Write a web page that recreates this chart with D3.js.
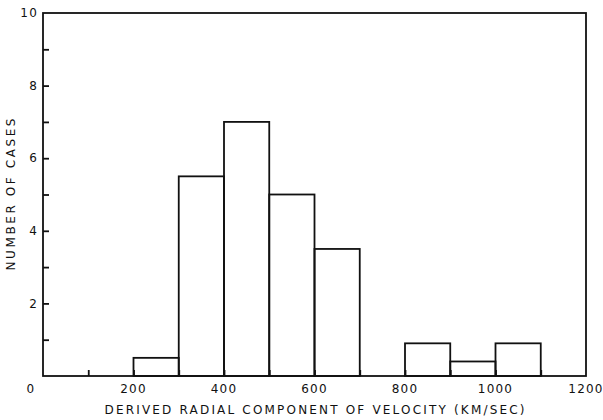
<!DOCTYPE html>
<html>
<head>
<meta charset="utf-8">
<script src="https://cdn.jsdelivr.net/npm/d3@7"></script>
<style>
  body { margin: 0; background: #fff; }
  text { font-family: "DejaVu Sans", sans-serif; fill: #111; }
</style>
</head>
<body>
<div id="chart"></div>
<script>
// bins of 100 km/sec, start values
var binStarts = [100, 200, 300, 400, 500, 600, 700, 800, 900, 1000];
var counts = [0, 0.5, 5.5, 7, 5, 3.5, 0, 0.9, 0.4, 0.9];
var xTickLabels = [0, 200, 400, 600, 800, 1000, 1200];
var yTickLabels = [2, 4, 6, 8, 10];
var xLabel = "DERIVED RADIAL COMPONENT OF VELOCITY (KM/SEC)";
var yLabel = "NUMBER OF CASES";

var width = 603, height = 420;
var margin = {top: 13, right: 17, bottom: 44, left: 43};

var svg = d3.select("#chart").append("svg").attr("width", width).attr("height", height);

var x = d3.scaleLinear().domain([0, 1200]).range([margin.left, width - margin.right]);
var y = d3.scaleLinear().domain([0, 10]).range([height - margin.bottom, margin.top]);

// bars
svg.selectAll("rect.bar").data(binStarts)
  .enter().append("rect")
  .attr("class", "bar")
  .attr("x", function(d) { return x(d); })
  .attr("width", function(d) { return x(d + 100) - x(d); })
  .attr("y", function(d, i) { return y(counts[i]); })
  .attr("height", function(d, i) { return y(0) - y(counts[i]); })
  .attr("fill", "none")
  .attr("stroke", "#111")
  .attr("stroke-width", 1.8);

// frame
svg.append("rect")
  .attr("x", x(0)).attr("y", y(10))
  .attr("width", x(1200) - x(0)).attr("height", y(0) - y(10))
  .attr("fill", "none").attr("stroke", "#111").attr("stroke-width", 1.8);

// y axis: inward ticks every 1
var yAxis = d3.axisRight(y).tickValues(d3.range(1, 10)).tickSize(6).tickFormat("");
var gy = svg.append("g").attr("transform", "translate(" + x(0) + ",0)").call(yAxis);
gy.select(".domain").remove();
gy.selectAll("line").attr("stroke", "#111").attr("stroke-width", 1.8);

svg.selectAll("text.ylab").data(yTickLabels)
  .enter().append("text")
  .attr("class", "ylab")
  .attr("x", x(0) - 5)
  .attr("y", function(d) { return y(d); })
  .attr("dy", "0.35em")
  .attr("text-anchor", "end")
  .attr("font-size", 12)
  .attr("letter-spacing", 1.2)
  .text(function(d) { return d; });

// x axis: inward ticks every 100
var xAxis = d3.axisTop(x).tickValues(d3.range(100, 1200, 100)).tickSize(6).tickFormat("");
var gx = svg.append("g").attr("transform", "translate(0," + y(0) + ")").call(xAxis);
gx.select(".domain").remove();
gx.selectAll("line").attr("stroke", "#111").attr("stroke-width", 1.8);

svg.selectAll("text.xlab").data(xTickLabels)
  .enter().append("text")
  .attr("class", "xlab")
  .attr("x", function(d) { return d === 0 ? x(d) - 12 : x(d); })
  .attr("y", y(0) + 17)
  .attr("text-anchor", "middle")
  .attr("font-size", 12)
  .attr("letter-spacing", 1.2)
  .text(function(d) { return d; });

svg.append("text")
  .attr("x", (x(0) + x(1200)) / 2)
  .attr("y", 414)
  .attr("text-anchor", "middle")
  .attr("font-size", 12)
  .attr("textLength", 420)
  .attr("lengthAdjust", "spacing")
  .text(xLabel);

svg.append("text")
  .attr("transform", "translate(15," + (y(5)) + ") rotate(-90)")
  .attr("text-anchor", "middle")
  .attr("font-size", 12)
  .attr("textLength", 152)
  .attr("lengthAdjust", "spacing")
  .text(yLabel);
</script>
</body>
</html>
